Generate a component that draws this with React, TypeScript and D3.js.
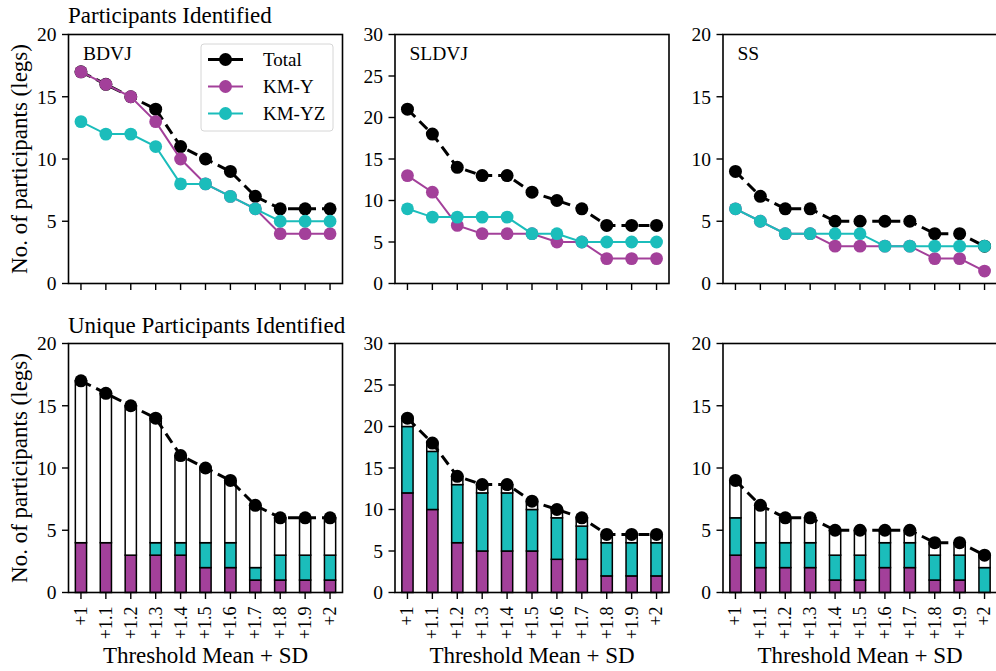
import React from 'react'
import * as d3 from 'd3'

const thresholds = ['+1', '+1.1', '+1.2', '+1.3', '+1.4', '+1.5', '+1.6', '+1.7', '+1.8', '+1.9', '+2']
const groups = ['BDVJ', 'SLDVJ', 'SS']
const yMax = [20, 30, 20]

// participants identified (top row)
const totalBDVJ = [17, 16, 15, 14, 11, 10, 9, 7, 6, 6, 6]
const kmyBDVJ = [17, 16, 15, 13, 10, 8, 7, 6, 4, 4, 4]
const kmyzBDVJ = [13, 12, 12, 11, 8, 8, 7, 6, 5, 5, 5]

const totalSLDVJ = [21, 18, 14, 13, 13, 11, 10, 9, 7, 7, 7]
const kmySLDVJ = [13, 11, 7, 6, 6, 6, 5, 5, 3, 3, 3]
const kmyzSLDVJ = [9, 8, 8, 8, 8, 6, 6, 5, 5, 5, 5]

const totalSS = [9, 7, 6, 6, 5, 5, 5, 5, 4, 4, 3]
const kmySS = [6, 5, 4, 4, 3, 3, 3, 3, 2, 2, 1]
const kmyzSS = [6, 5, 4, 4, 4, 4, 3, 3, 3, 3, 3]

// unique participants (bottom row): purple segment, cyan segment
const uniqYBDVJ = [4, 4, 3, 3, 3, 2, 2, 1, 1, 1, 1]
const uniqYZBDVJ = [0, 0, 0, 1, 1, 2, 2, 1, 2, 2, 2]
const uniqYSLDVJ = [12, 10, 6, 5, 5, 5, 4, 4, 2, 2, 2]
const uniqYZSLDVJ = [8, 7, 7, 7, 7, 5, 5, 4, 4, 4, 4]
const uniqYSS = [3, 2, 2, 2, 1, 1, 2, 2, 1, 1, 0]
const uniqYZSS = [3, 2, 2, 2, 2, 2, 2, 2, 2, 2, 2]

const totals = [totalBDVJ, totalSLDVJ, totalSS]
const kmy = [kmyBDVJ, kmySLDVJ, kmySS]
const kmyz = [kmyzBDVJ, kmyzSLDVJ, kmyzSS]
const uniqY = [uniqYBDVJ, uniqYSLDVJ, uniqYSS]
const uniqYZ = [uniqYZBDVJ, uniqYZSLDVJ, uniqYZSS]

const PURPLE = '#a3409a'
const CYAN = '#1bbdbb'
const FONT = '"Liberation Serif", "Times New Roman", serif'

const colX = [68.5, 395, 723]
const panelW = 274
const rowY = [34.5, 343.5]
const panelH = 249

function Panel({ col, row }: { col: number; row: number }) {
  const x = d3.scaleLinear().domain([-0.5, thresholds.length - 0.5]).range([0, panelW])
  const y = d3.scaleLinear().domain([0, yMax[col]]).range([panelH, 0])
  const ticks = d3.range(0, yMax[col] + 1, 5)
  const idx = thresholds.map((_, i) => i)
  const line = d3.line<number>().x((d, i) => x(i)).y(d => y(d))
  const bw = 0.45 * (x(1) - x(0))
  const tot = totals[col]

  return (
    <g transform={`translate(${colX[col]},${rowY[row]})`}>
      {row === 1 &&
        idx.map(i => {
          const a = uniqY[col][i]
          const b = a + uniqYZ[col][i]
          const segs = [
            [0, a, PURPLE],
            [a, b, CYAN],
            [b, tot[i], '#ffffff'],
          ] as [number, number, string][]
          return (
            <g key={i}>
              {segs
                .filter(s => s[1] > s[0])
                .map((s, k) => (
                  <rect
                    key={k}
                    x={x(i) - bw / 2}
                    y={y(s[1])}
                    width={bw}
                    height={y(s[0]) - y(s[1])}
                    fill={s[2]}
                    stroke="#000"
                    strokeWidth={1.5}
                  />
                ))}
            </g>
          )
        })}
      <path d={line(tot) || ''} fill="none" stroke="#000" strokeWidth={3} strokeDasharray="11,6" />
      {idx.map(i => (
        <circle key={'t' + i} cx={x(i)} cy={y(tot[i])} r={6.5} fill="#000" />
      ))}
      {row === 0 &&
        [
          [kmy[col], PURPLE],
          [kmyz[col], CYAN],
        ].map(([vals, c], k) => (
          <g key={k}>
            <path d={line(vals as number[]) || ''} fill="none" stroke={c as string} strokeWidth={2} />
            {(vals as number[]).map((v, i) => (
              <circle key={i} cx={x(i)} cy={y(v)} r={6.4} fill={c as string} />
            ))}
          </g>
        ))}
      <rect x={0} y={0} width={panelW} height={panelH} fill="none" stroke="#000" strokeWidth={1.6} />
      {ticks.map(t => (
        <g key={t} transform={`translate(0,${y(t)})`}>
          <line x1={-6.5} x2={0} stroke="#000" strokeWidth={1.4} />
          <text x={-12} dy="0.35em" textAnchor="end" fontSize={19.5} fontFamily={FONT}>
            {t}
          </text>
        </g>
      ))}
      {idx.map(i => (
        <g key={i} transform={`translate(${x(i)},${panelH})`}>
          <line y1={0} y2={6.5} stroke="#000" strokeWidth={1.4} />
          {row === 1 && (
            <text
              transform="translate(0,14) rotate(-90)"
              dy="0.33em"
              textAnchor="end"
              fontSize={18}
              fontFamily={FONT}
            >
              {thresholds[i]}
            </text>
          )}
        </g>
      ))}
      {row === 0 && (
        <text x={14.5} y={25.5} fontSize={19.5} fontFamily={FONT}>
          {groups[col]}
        </text>
      )}
      {row === 1 && (
        <text x={panelW / 2} y={663 - rowY[1]} textAnchor="middle" fontSize={23} fontFamily={FONT}>
          Threshold Mean + SD
        </text>
      )}
      {col === 0 && (
        <text
          transform={`translate(${19 - colX[0]},${panelH / 2}) rotate(-90)`}
          dy="0.35em"
          textAnchor="middle"
          fontSize={23}
          fontFamily={FONT}
        >
          No. of participants (legs)
        </text>
      )}
      {row === 0 && col === 0 && <Legend />}
    </g>
  )
}

const legendItems = ['Total', 'KM-Y', 'KM-YZ']
const legendColors = ['#000', PURPLE, CYAN]

function Legend() {
  const lx = 132.5
  const ly = 9.5
  return (
    <g transform={`translate(${lx},${ly})`}>
      <rect x={0} y={0} width={132} height={87} rx={3} fill="#fff" stroke="#d6d6d6" strokeWidth={1} />
      {legendItems.map((name, i) => (
        <g key={name} transform={`translate(0,${15.5 + i * 27})`}>
          <line x1={7} x2={42} stroke={legendColors[i]} strokeWidth={i === 0 ? 3 : 2} />
          <circle cx={24.5} cy={0} r={i === 0 ? 6.5 : 6.4} fill={legendColors[i]} />
          <text x={62} dy="0.35em" fontSize={19} fontFamily={FONT}>
            {name}
          </text>
        </g>
      ))}
    </g>
  )
}

export default function App() {
  return (
    <svg
      width={996}
      height={671}
      style={{ position: 'absolute', left: 0, top: 0, background: '#fff' }}
    >
      <text x={68} y={23} fontSize={23} fontFamily={FONT}>
        Participants Identified
      </text>
      <text x={68} y={333} fontSize={23} fontFamily={FONT}>
        Unique Participants Identified
      </text>
      {[0, 1].map(row =>
        [0, 1, 2].map(col => <Panel key={`${row}-${col}`} col={col} row={row} />)
      )}
    </svg>
  )
}
